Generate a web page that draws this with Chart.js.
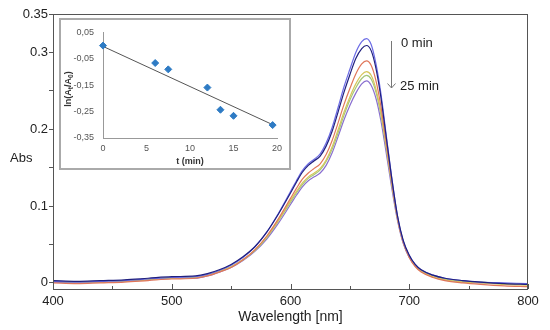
<!DOCTYPE html>
<html><head><meta charset="utf-8">
<script src="https://cdn.jsdelivr.net/npm/chart.js@4"></script>
<style>
html,body{margin:0;padding:0;background:#fff;}
#wrap{position:relative;width:550px;height:330px;overflow:hidden;}
#main{position:absolute;left:0;top:0;}
#insetBox{position:absolute;left:59px;top:18px;width:232px;height:152px;background:#fff;}
#inset{position:absolute;left:0;top:0;}
</style></head><body>
<div id="wrap">
<canvas id="main" width="550" height="330"></canvas>
<div id="insetBox"><canvas id="inset" width="232" height="152"></canvas></div>
</div>
<script>
// ---------- main spectra data ----------
const wavelengths = [400,420,440,460,480,500,520,530,540,550,560,570,580,590,600,605,610,615,620,625,630,635,640,645,650,655,660,664,668,672,676,680,685,690,695,700,705,710,720,730,745,760,780,800];
const abs0min = [0.002,0.001,0.002,0.003,0.005,0.007,0.008,0.011,0.016,0.023,0.033,0.047,0.066,0.091,0.119,0.133,0.146,0.155,0.161,0.168,0.182,0.202,0.228,0.255,0.278,0.300,0.314,0.318,0.310,0.285,0.248,0.200,0.140,0.088,0.054,0.036,0.024,0.017,0.010,0.006,0.003,0.001,0.000,-0.001];
const absB = [0.003,0.002,0.003,0.004,0.006,0.008,0.009,0.012,0.017,0.024,0.034,0.047,0.066,0.090,0.117,0.131,0.144,0.153,0.159,0.165,0.178,0.197,0.222,0.248,0.271,0.292,0.305,0.309,0.302,0.279,0.243,0.197,0.139,0.088,0.055,0.036,0.024,0.017,0.010,0.006,0.003,0.001,-0.001,-0.002];
const absC = [0.000,-0.001,0.000,0.001,0.003,0.005,0.006,0.009,0.014,0.020,0.030,0.043,0.061,0.084,0.110,0.123,0.135,0.143,0.149,0.155,0.167,0.185,0.208,0.232,0.253,0.272,0.285,0.289,0.283,0.263,0.231,0.189,0.134,0.085,0.052,0.033,0.021,0.014,0.007,0.003,0.000,-0.002,-0.004,-0.005];
const absD = [0.002,0.001,0.001,0.002,0.004,0.006,0.007,0.010,0.015,0.021,0.030,0.043,0.060,0.082,0.107,0.119,0.130,0.138,0.143,0.149,0.160,0.177,0.199,0.222,0.242,0.259,0.271,0.275,0.270,0.252,0.223,0.184,0.132,0.085,0.053,0.034,0.022,0.015,0.008,0.004,0.001,0.000,-0.002,-0.003];
const absE = [0.002,0.001,0.002,0.003,0.005,0.007,0.007,0.010,0.015,0.021,0.030,0.042,0.059,0.081,0.105,0.117,0.128,0.136,0.141,0.147,0.158,0.174,0.195,0.218,0.238,0.254,0.266,0.270,0.265,0.248,0.220,0.182,0.131,0.085,0.053,0.034,0.023,0.016,0.009,0.005,0.002,0.001,-0.001,-0.002];
const abs25min = [0.001,0.000,0.001,0.002,0.004,0.006,0.006,0.009,0.014,0.020,0.029,0.041,0.057,0.078,0.102,0.114,0.125,0.133,0.138,0.143,0.153,0.169,0.190,0.212,0.231,0.247,0.259,0.263,0.257,0.240,0.212,0.175,0.126,0.082,0.051,0.033,0.022,0.015,0.008,0.004,0.001,0.000,-0.001,-0.002];
const seriesList = [absB, abs0min, absC, absD, absE, abs25min];
const seriesColors = ['#20207f','#6c6ce6','#e0765a','#d6c65a','#a4c67a','#8a6fd0'];
const xMajorTicks = [400,500,600,700,800];
const xMinorTicks = [450,550,650,750];
const yTickValues = [0,0.05,0.1,0.15,0.2,0.25,0.3,0.35];
const yTickLabels = {'0':'0','0.1':'0.1','0.2':'0.2','0.3':'0.3','0.35':'0.35'};

// ---------- inset data ----------
const insetT = [0,6,7.5,12,13.5,15,19.5];
const insetLn = [0.0,-0.066,-0.09,-0.159,-0.243,-0.266,-0.301];
const trendT = [0,19.6];
const trendLn = [-0.003,-0.301];
const insetXTicks = [0,5,10,15,20];
const insetYTicks = [-0.35,-0.25,-0.15,-0.05,0.05];

Chart.defaults.font.family = "'Liberation Sans', Arial, sans-serif";

const mainDecor = {
  id:'mainDecor',
  afterDraw(chart){
    const ctx = chart.ctx, a = chart.chartArea, xs = chart.scales.x;
    ctx.save();
    ctx.strokeStyle = '#555'; ctx.lineWidth = 1;
    ctx.strokeRect(a.left+0.5, a.top+0.5, a.right-a.left-1, a.bottom-a.top);
    ctx.beginPath();
    xMajorTicks.forEach(v=>{const p=Math.round(xs.getPixelForValue(v))+0.5; ctx.moveTo(p,a.bottom); ctx.lineTo(p,a.bottom-5);});
    xMinorTicks.forEach(v=>{const p=Math.round(xs.getPixelForValue(v))+0.5; ctx.moveTo(p,a.bottom); ctx.lineTo(p,a.bottom-3);});
    ctx.stroke();
    ctx.fillStyle = '#222';
    ctx.font = "13px 'Liberation Sans', Arial, sans-serif";
    ctx.textBaseline = 'middle'; ctx.textAlign = 'left';
    ctx.fillText('Abs', 10, 158);
    ctx.fillText('0 min', 401, 43);
    ctx.fillText('25 min', 400, 86);
    ctx.font = "14px 'Liberation Sans', Arial, sans-serif";
    ctx.textAlign = 'center';
    ctx.fillText('Wavelength [nm]', (a.left+a.right)/2, 317);
    // arrow
    ctx.strokeStyle = '#777';
    ctx.beginPath();
    ctx.moveTo(391.5,41); ctx.lineTo(391.5,88);
    ctx.moveTo(387.5,83.5); ctx.lineTo(391.5,88); ctx.lineTo(395.5,83.5);
    ctx.stroke();
    ctx.restore();
  }
};

new Chart(document.getElementById('main'), {
  type:'line',
  data:{
    datasets: seriesList.map((arr,i)=>({
      data: wavelengths.map((w,j)=>({x:w,y:arr[j]})),
      borderColor: seriesColors[i],
      borderWidth: 1.2,
      pointRadius: 0,
      fill:false,
      cubicInterpolationMode:'monotone'
    }))
  },
  options:{
    responsive:false, animation:false, devicePixelRatio:1,
    layout:{padding:{left:0,top:14,right:22,bottom:0}},
    plugins:{legend:{display:false},tooltip:{enabled:false}},
    scales:{
      x:{type:'linear',min:400,max:800,
        afterBuildTicks:s=>{s.ticks = xMajorTicks.map(v=>({value:v}));},
        afterFit:s=>{s.height = 41;},
        ticks:{font:{size:13},color:'#222',padding:5,maxRotation:0},
        grid:{drawOnChartArea:false,drawTicks:false},
        border:{display:false}},
      y:{type:'linear',min:-0.008,max:0.35,
        afterBuildTicks:s=>{s.ticks = yTickValues.map(v=>({value:v}));},
        afterFit:s=>{s.width = 53;},
        ticks:{font:{size:13},color:'#222',padding:1,
          callback:v=>{const k=String(Math.round(v*100)/100); return yTickLabels[k]!==undefined?yTickLabels[k]:'';}},
        grid:{drawOnChartArea:false,drawTicks:true,tickLength:4,color:'#555'},
        border:{display:false}}
    }
  },
  plugins:[mainDecor]
});

const insetDecor = {
  id:'insetDecor',
  afterDraw(chart){
    const ctx = chart.ctx, a = chart.chartArea;
    ctx.save();
    ctx.strokeStyle = '#aaa'; ctx.lineWidth = 2;
    ctx.strokeRect(1,1,230,150);
    ctx.fillStyle = '#333';
    ctx.font = "bold 9px 'Liberation Sans', Arial, sans-serif";
    ctx.textAlign = 'center'; ctx.textBaseline = 'middle';
    ctx.fillText('t (min)', (a.left+a.right)/2, 144);
    // rotated y title with subscripts
    ctx.translate(10, 71);
    ctx.rotate(-Math.PI/2);
    const big = "bold 9px 'Liberation Sans', Arial, sans-serif";
    const small = "bold 6.5px 'Liberation Sans', Arial, sans-serif";
    const parts = [['ln(A',big,0],['t',small,2],['/A',big,0],['0',small,2],[')',big,0]];
    let total = 0;
    parts.forEach(p=>{ctx.font=p[1]; total += ctx.measureText(p[0]).width;});
    let x = -total/2;
    ctx.textAlign = 'left';
    parts.forEach(p=>{ctx.font=p[1]; ctx.fillText(p[0], x, p[2]); x += ctx.measureText(p[0]).width;});
    ctx.restore();
  }
};

new Chart(document.getElementById('inset'), {
  type:'scatter',
  data:{
    datasets:[
      {data: insetT.map((t,i)=>({x:t,y:insetLn[i]})), pointStyle:'rectRot', pointRadius:3.5,
       backgroundColor:'#2e7bc4', borderColor:'#2e7bc4', borderWidth:1, showLine:false, clip:false},
      {data: trendT.map((t,i)=>({x:t,y:trendLn[i]})), showLine:true, pointRadius:0,
       borderColor:'#555', borderWidth:1}
    ]
  },
  options:{
    responsive:false, animation:false, devicePixelRatio:1,
    layout:{padding:{left:0,top:14,right:14,bottom:0}},
    plugins:{legend:{display:false},tooltip:{enabled:false}},
    scales:{
      x:{type:'linear',min:0,max:20,
        afterBuildTicks:s=>{s.ticks = insetXTicks.map(v=>({value:v}));},
        afterFit:s=>{s.height = 32;},
        ticks:{font:{size:9},color:'#555',padding:5,maxRotation:0},
        grid:{drawOnChartArea:false,drawTicks:false},
        border:{display:true,color:'#999',width:1}},
      y:{type:'linear',min:-0.35,max:0.05,
        afterBuildTicks:s=>{s.ticks = insetYTicks.map(v=>({value:v}));},
        afterFit:s=>{s.width = 44;},
        ticks:{font:{size:9},color:'#555',padding:9,
          callback:v=>v.toFixed(2).replace('.',',')},
        grid:{drawOnChartArea:false,drawTicks:false},
        border:{display:true,color:'#999',width:1}}
    }
  },
  plugins:[insetDecor]
});
</script>
</body></html>
